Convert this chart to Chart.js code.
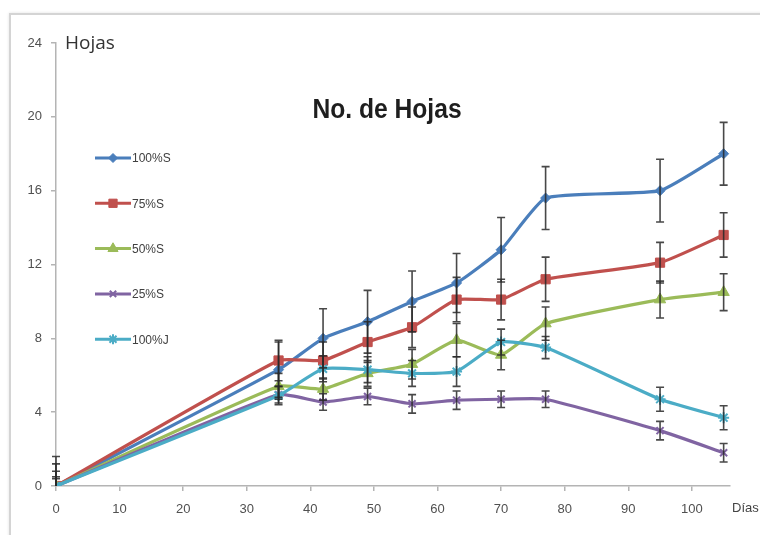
<!DOCTYPE html>
<html>
<head>
<meta charset="utf-8">
<script src="https://cdn.jsdelivr.net/npm/chart.js@4.4.1/dist/chart.umd.min.js"></script>
<style>
  html, body { margin: 0; padding: 0; background: #fff; }
  #wrap { position: relative; width: 760px; height: 535px; overflow: hidden; }
  #frame { position: absolute; left: 9px; top: 13px; width: 820px; height: 600px;
           border: 2px solid #d4d4d4; box-shadow: 0 0 3px #e2e2e2; }
  canvas { position: absolute; left: 0; top: 0; }
</style>
</head>
<body>
<div id="wrap">
  <div id="frame"></div>
  <canvas id="chart" width="760" height="535"></canvas>
</div>
<script>
// Días de muestreo
const days = [0, 35, 42, 49, 56, 63, 70, 77, 95, 105];

// Número medio de hojas por tratamiento
const s100 = [0, 6.3, 8.0, 8.9, 10.0, 11.0, 12.8, 15.6, 16.0, 18.0];
const s75  = [0, 6.8, 6.8, 7.8, 8.6, 10.1, 10.1, 11.2, 12.1, 13.6];
const s50  = [0, 5.4, 5.25, 6.1, 6.6, 7.9, 7.1, 8.8, 10.1, 10.5];
const s25  = [0, 4.95, 4.55, 4.85, 4.45, 4.65, 4.7, 4.7, 3.0, 1.8];
const j100 = [0, 4.9, 6.35, 6.3, 6.1, 6.2, 7.8, 7.5, 4.7, 3.7];

// Desviación (barras de error)
const s100Err = [1.6, 1.5, 1.6, 1.7, 1.65, 1.6, 1.75, 1.7, 1.7, 1.7];
const s75Err  = [1.2, 1.1, 1.0, 1.1, 1.1, 1.2, 1.1, 1.2, 1.1, 1.2];
const s50Err  = [0.8, 0.7, 0.6, 0.7, 0.8, 0.9, 0.8, 0.9, 1.0, 1.0];
const s25Err  = [0.4, 0.45, 0.45, 0.45, 0.5, 0.5, 0.45, 0.45, 0.5, 0.5];
const j100Err = [0.5, 0.5, 0.7, 0.7, 0.7, 0.8, 0.7, 0.6, 0.65, 0.65];

const seriesNames = ['100%S', '75%S', '50%S', '25%S', '100%J'];
const yTicks = [0, 4, 8, 12, 16, 20, 24];
const xTicks = [0, 10, 20, 30, 40, 50, 60, 70, 80, 90, 100];

const values = [s100, s75, s50, s25, j100];
const errors = [s100Err, s75Err, s50Err, s25Err, j100Err];
const colors = ['#4a7ebb', '#c0504d', '#9bbb59', '#8064a2', '#4bacc6'];
const shapes = ['rectRot', 'rect', 'triangle', 'crossRot', 'star'];
const radii  = [5, 6.5, 6.5, 5, 5.5];

const datasets = values.map((vals, i) => ({
  label: seriesNames[i],
  data: vals.map((v, k) => ({ x: days[k], y: v })),
  errs: errors[i],
  borderColor: colors[i],
  backgroundColor: colors[i],
  borderWidth: 3.2,
  pointStyle: shapes[i],
  pointRadius: radii[i],
  pointBorderWidth: (shapes[i] === 'crossRot' || shapes[i] === 'star') ? 2 : 1,
  pointBorderColor: colors[i],
  pointBackgroundColor: colors[i],
  tension: 0.15,
  order: 4 - i
}));

const narrow = "'Liberation Sans Narrow', 'Liberation Sans', sans-serif";

// Barras de error, títulos y leyenda dibujados sobre el lienzo
const extras = {
  id: 'extras',
  afterDatasetsDraw(chart) {
    const ctx = chart.ctx;
    const xs = chart.scales.x, ys = chart.scales.y;
    ctx.save();
    ctx.strokeStyle = 'rgba(40,40,40,0.85)';
    ctx.lineWidth = 1.6;
    chart.data.datasets.forEach(ds => {
      ds.data.forEach((p, k) => {
        const e = ds.errs[k];
        const px = xs.getPixelForValue(p.x);
        const top = ys.getPixelForValue(p.y + e);
        const bot = ys.getPixelForValue(Math.max(p.y - e, 0));
        ctx.beginPath();
        ctx.moveTo(px, top); ctx.lineTo(px, bot);
        ctx.moveTo(px - 4, top); ctx.lineTo(px + 4, top);
        if (p.y - e > 0) { ctx.moveTo(px - 4, bot); ctx.lineTo(px + 4, bot); }
        ctx.stroke();
      });
    });
    ctx.restore();
  },
  afterDraw(chart) {
    const ctx = chart.ctx;
    ctx.save();
    // Título (ligeramente condensado)
    ctx.save();
    ctx.fillStyle = '#1e1e1e';
    ctx.font = "bold 28px 'Liberation Sans', sans-serif";
    ctx.textAlign = 'center';
    ctx.textBaseline = 'alphabetic';
    ctx.translate(387, 118);
    ctx.scale(0.88, 1);
    ctx.fillText('No. de Hojas', 0, 0);
    ctx.restore();
    // Título del eje Y
    ctx.font = "19px 'Open Sans', sans-serif";
    ctx.fillStyle = '#333';
    ctx.textAlign = 'left';
    ctx.textBaseline = 'middle';
    ctx.fillText('Hojas', 65, 44);
    // Título del eje X
    ctx.font = "13px " + narrow;
    ctx.fillStyle = '#444';
    ctx.fillText('Días', 732, 508);
    // Leyenda
    chart.data.datasets.forEach((ds, i) => {
      const y = 158 + 45.3 * i;
      ctx.strokeStyle = ds.borderColor;
      ctx.lineWidth = 3;
      ctx.beginPath();
      ctx.moveTo(95, y); ctx.lineTo(131, y);
      ctx.stroke();
      ctx.fillStyle = ds.backgroundColor;
      ctx.lineWidth = ds.pointBorderWidth;
      Chart.helpers.drawPoint(ctx, {
        pointStyle: ds.pointStyle, radius: ds.pointRadius * 0.9, rotation: 0,
        borderWidth: ds.pointBorderWidth
      }, 113, y);
      ctx.fillStyle = '#404040';
      ctx.font = "12px " + narrow;
      ctx.textBaseline = 'middle';
      ctx.fillText(ds.label, 132, y + 1);
    });
    ctx.restore();
  }
};

new Chart(document.getElementById('chart'), {
  type: 'line',
  data: { datasets },
  plugins: [extras],
  options: {
    responsive: false,
    animation: false,
    devicePixelRatio: 1,
    layout: { padding: { left: 12, top: 43, right: 30, bottom: 9 } },
    plugins: { legend: { display: false }, tooltip: { enabled: false }, title: { display: false } },
    scales: {
      x: {
        type: 'linear', min: 0, max: 106,
        afterBuildTicks: s => { s.ticks = xTicks.map(v => ({ value: v })); },
        afterFit: s => { s.height = 40; },
        ticks: { color: '#505050', font: { family: narrow, size: 13 }, padding: 11, maxRotation: 0 },
        grid: { drawOnChartArea: false, tickLength: 5, color: '#b4b4b4', lineWidth: 1.5 },
        border: { color: '#b4b4b4', width: 1.5 }
      },
      y: {
        min: 0, max: 24,
        afterBuildTicks: s => { s.ticks = yTicks.map(v => ({ value: v })); },
        afterFit: s => { s.width = 44; },
        ticks: { color: '#505050', font: { family: narrow, size: 13 }, padding: 9 },
        grid: { drawOnChartArea: false, tickLength: 5, color: '#b4b4b4', lineWidth: 1.5 },
        border: { color: '#b4b4b4', width: 1.5 }
      }
    }
  }
});
</script>
</body>
</html>
